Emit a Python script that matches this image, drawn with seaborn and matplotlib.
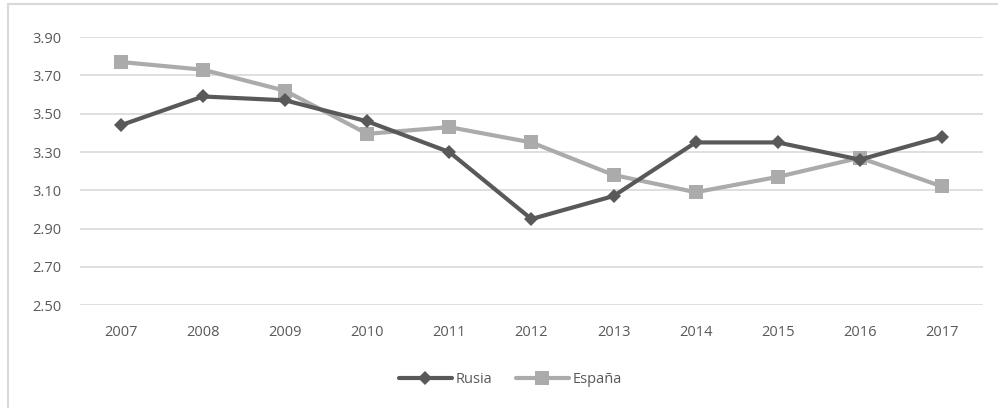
import matplotlib
matplotlib.use("Agg")
import matplotlib.pyplot as plt
import seaborn as sns
import pandas as pd
from matplotlib.patches import Rectangle

years = ["2007", "2008", "2009", "2010", "2011", "2012", "2013", "2014", "2015", "2016", "2017"]
rusia = [3.44, 3.59, 3.57, 3.46, 3.30, 2.95, 3.07, 3.35, 3.35, 3.26, 3.38]
espana = [3.77, 3.73, 3.62, 3.395, 3.43, 3.35, 3.18, 3.09, 3.17, 3.27, 3.12]
series_names = ["Rusia", "España"]
y_ticks = [2.50, 2.70, 2.90, 3.10, 3.30, 3.50, 3.70, 3.90]

df = pd.DataFrame({
    "year": years * 2,
    "value": rusia + espana,
    "serie": [series_names[0]] * len(years) + [series_names[1]] * len(years),
})

sns.set_theme(style="white")
plt.rcParams["font.family"] = ["Open Sans", "DejaVu Sans"]

fig = plt.figure(figsize=(9.98, 4.08), dpi=100)
ax = fig.add_axes([0.080, 0.252, 0.905, 0.657])

palette = {"Rusia": "#595959", "España": "#ABABAB"}
markers = {"Rusia": "D", "España": "s"}
sizes_ms = {"Rusia": 7, "España": 10}

for name in series_names:
    sub = df[df["serie"] == name]
    sns.lineplot(data=sub, x="year", y="value", ax=ax, color=palette[name],
                 marker=markers[name], markersize=sizes_ms[name], linewidth=3.0,
                 markeredgewidth=0, label=name, sort=False, zorder=3 if name == "Rusia" else 2)

ax.set_xlim(-0.5, len(years) - 0.5)
ax.set_ylim(2.50, 3.90)
ax.set_yticks(y_ticks)
ax.set_yticklabels([f"{v:.2f}" for v in y_ticks])
ax.yaxis.grid(True, color="#D9D9D9", linewidth=1.2)
ax.xaxis.grid(False)
for s in ax.spines.values():
    s.set_visible(False)
ax.set_xlabel("")
ax.set_ylabel("")
ax.tick_params(axis="both", length=0, labelsize=10.5, colors="#595959")
ax.tick_params(axis="y", pad=13)
ax.tick_params(axis="x", pad=14)

leg = ax.legend(loc="upper center", bbox_to_anchor=(0.477, -0.2), ncol=2, frameon=False,
                fontsize=10.5, handlelength=3.6, columnspacing=1.6, handletextpad=0.3)
for t in leg.get_texts():
    t.set_color("#595959")

fig.patches.append(Rectangle((0.008, -0.01), 1.0, 1.0, transform=fig.transFigure,
                             fill=False, edgecolor="#D9D9D9", linewidth=1.5))

fig.savefig("out.png", dpi=100)
